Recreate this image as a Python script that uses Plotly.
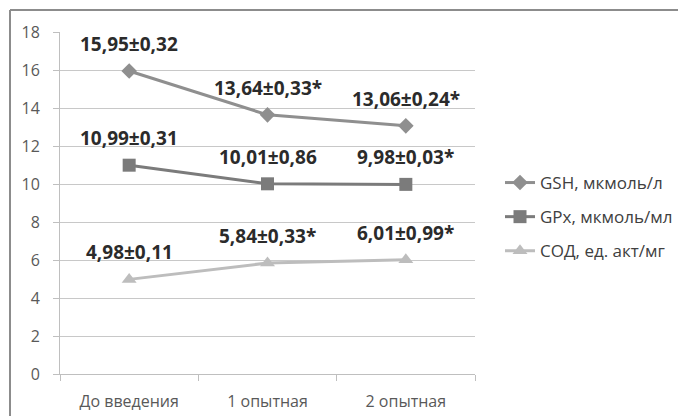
import plotly.graph_objects as go

categories = ["До введения", "1 опытная", "2 опытная"]
gsh = [15.95, 13.64, 13.06]
gpx = [10.99, 10.01, 9.98]
sod = [4.98, 5.84, 6.01]
gsh_labels = ["15,95±0,32", "13,64±0,33*", "13,06±0,24*"]
gpx_labels = ["10,99±0,31", "10,01±0,86", "9,98±0,03*"]
sod_labels = ["4,98±0,11", "5,84±0,33*", "6,01±0,99*"]
y_ticks = [0, 2, 4, 6, 8, 10, 12, 14, 16, 18]

FONT = "Open Sans"
series = [
    ("GSH, мкмоль/л", gsh, gsh_labels, "#8f8f8f", "diamond", 12),
    ("GPx, мкмоль/мл", gpx, gpx_labels, "#7b7b7b", "square", 13),
    ("СОД, ед. акт/мг", sod, sod_labels, "#bdbdbd", "triangle-up", 13),
]

fig = go.Figure()
for i, (name, vals, labs, col, sym, sz) in enumerate(series):
    fig.add_trace(go.Scatter(
        x=categories, y=vals, name=name, mode="lines+markers",
        line=dict(color=col, width=3),
        marker=dict(symbol=sym, size=sz, color=col),
        legendgroup=f"g{i}",
    ))
    for c, v, t in zip(categories, vals, labs):
        fig.add_annotation(x=c, y=v, text=f"<b>{t}</b>", showarrow=False,
                           yshift=27, font=dict(family=FONT, size=19, color="#2b2b2b"))

# page body has an 8px margin; positions below are screen pixels
OFF = 8
W, H = 686, 416
ml, mt = 60 - OFF, 32 - OFF
mr = W - (475 - OFF)
mb = H - (374 - OFF)
pw, ph = W - ml - mr, H - mt - mb
def px(x): return (x - OFF - ml) / pw
def py(y): return (H - mb - (y - OFF)) / ph

fig.add_shape(type="line", xref="paper", yref="paper", x0=px(10), x1=px(720),
              y0=py(10), y1=py(10), line=dict(color="#8c8c8c", width=2))
fig.add_shape(type="line", xref="paper", yref="paper", x0=px(10), x1=px(10),
              y0=py(10), y1=py(440), line=dict(color="#8c8c8c", width=2))

fig.update_layout(
    width=W, height=H, margin=dict(l=ml, r=mr, t=mt, b=mb),
    paper_bgcolor="white", plot_bgcolor="white",
    font=dict(family=FONT, size=16, color="#595959"),
    showlegend=True,
    legend=dict(x=px(500), xanchor="left", y=py(217), yanchor="middle",
                traceorder="grouped", tracegroupgap=9,
                font=dict(family=FONT, size=17, color="#404040")),
    xaxis=dict(type="category", range=[-0.5, 2.5], showline=True, linecolor="#bfbfbf",
               linewidth=1, ticks="outside", tickson="boundaries", ticklen=6,
               tickcolor="#bfbfbf", showgrid=False, tickfont=dict(size=16),
               ticklabelstandoff=13),
    yaxis=dict(range=[0, 18], tickvals=y_ticks, showline=True, linecolor="#bfbfbf",
               linewidth=1, ticks="outside", ticklen=6, tickcolor="#bfbfbf",
               showgrid=True, gridcolor="#c8c8c8", gridwidth=1, zeroline=False,
               tickfont=dict(size=16), ticklabelstandoff=10),
)
fig.write_html("out.html")
